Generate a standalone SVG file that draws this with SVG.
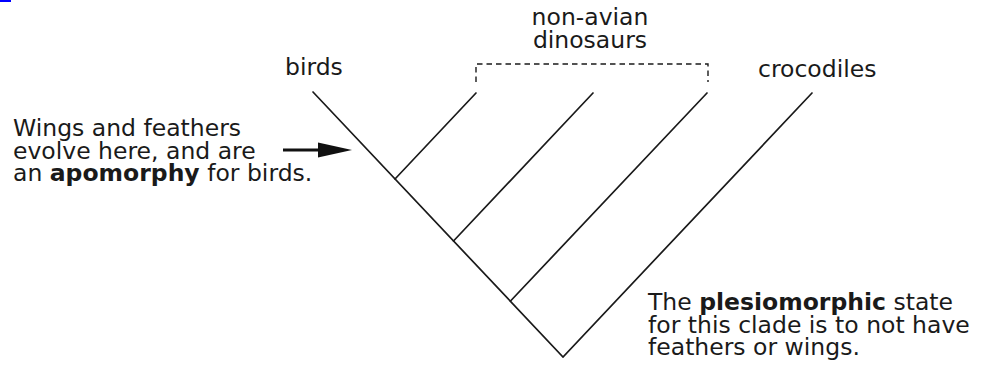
<svg xmlns="http://www.w3.org/2000/svg" width="982" height="366" viewBox="0 0 982 366">
<style>
text{font-family:"DejaVu Sans","Verdana",sans-serif;font-size:23.5px;fill:#1a1a1a}
.b{font-weight:bold}
.edge{stroke:#1a1a1a;stroke-width:1.7;fill:none;stroke-linecap:round}
.dash{stroke:#1a1a1a;stroke-width:1.4;fill:none;stroke-dasharray:5.5 4}
</style>
<defs>
<marker id="ah" markerWidth="12" markerHeight="12" refX="10" refY="5" orient="auto" markerUnits="userSpaceOnUse">
<path d="M0,0 L10,5 L0,10 z" fill="#111"/>
</marker>
</defs>
<rect x="0" y="0" width="11" height="2" fill="#0000ff"/>
<g id="connectors">
<path class="edge" d="M313,92 L563,357 L812,93"/>
<path class="edge" d="M395,179 L476,93"/>
<path class="edge" d="M453.5,241 L593,93"/>
<path class="edge" d="M510.5,301 L707,93"/>
<path class="dash" d="M476,82 L476,64 L708,64 L708,82"/>
<path d="M283,150 L340,150" stroke="#111" stroke-width="3.2" fill="none"/>
<path d="M318,142.5 L352,150 L318,157.5 z" fill="#111"/>
</g>
<g id="birds"><text x="285" y="75">birds</text></g>
<g id="nonavian"><text x="590" y="25" text-anchor="middle">non-avian</text><text x="590" y="47.5" text-anchor="middle">dinosaurs</text></g>
<g id="crocodiles"><text x="758" y="77">crocodiles</text></g>
<g id="apomorphy-note">
<text x="13" y="136">Wings and feathers</text>
<text x="13" y="158.5">evolve here, and are</text>
<text x="13" y="181">an <tspan class="b">apomorphy</tspan> for birds.</text>
</g>
<g id="plesiomorphy-note">
<text x="648" y="310">The <tspan class="b">plesiomorphic</tspan> state</text>
<text x="648" y="332.5">for this clade is to not have</text>
<text x="648" y="355">feathers or wings.</text>
</g>
</svg>
